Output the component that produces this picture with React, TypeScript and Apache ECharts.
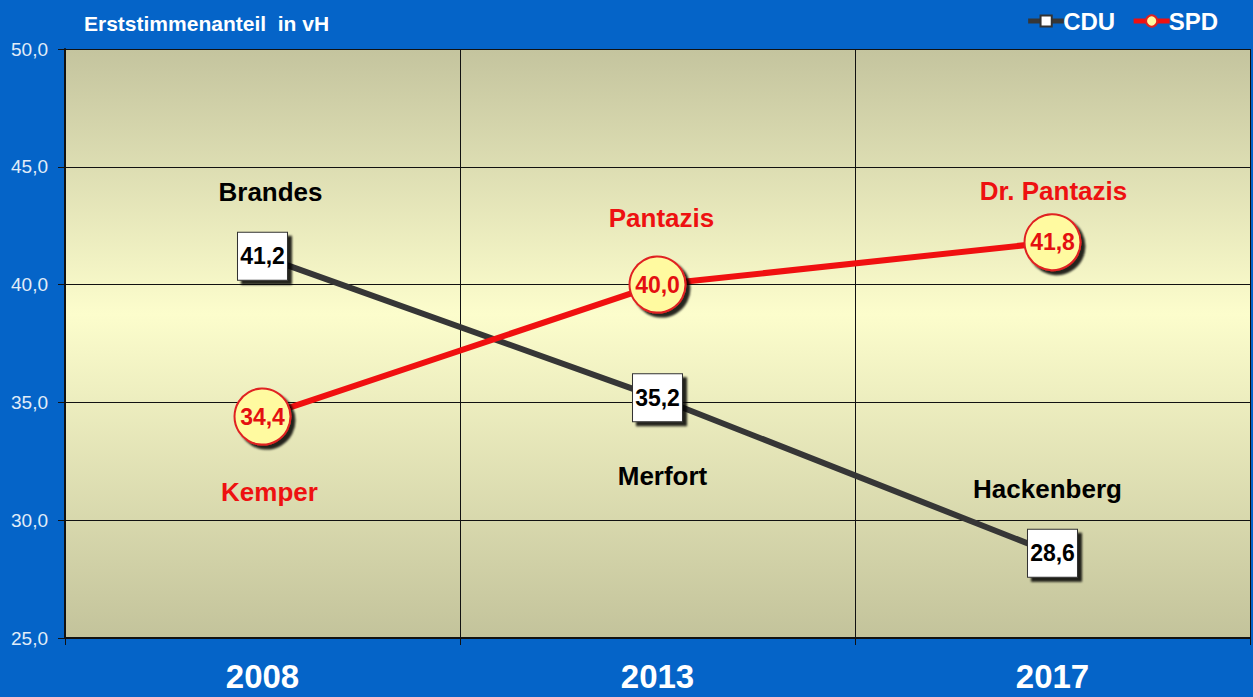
import React, { useEffect, useRef } from "react";
import * as echarts from "echarts";

const years = ["2008", "2013", "2017"];
const cduValues = [41.2, 35.2, 28.6];
const spdValues = [34.4, 40.0, 41.8];
const cduNames = ["Brandes", "Merfort", "Hackenberg"];
const spdNames = ["Kemper", "Pantazis", "Dr. Pantazis"];
const cduNameOffsets = [[8, -64], [5, 78], [-5, -64]];
const spdNameOffsets = [[7, 75], [4, -67], [1, -51]];

const FONT = "'Liberation Sans', Arial, sans-serif";
const fmt = (v: number) => v.toFixed(1).replace(".", ",");

export default function App() {
  const ref = useRef<HTMLDivElement>(null);
  useEffect(() => {
    if (!ref.current) return;
    const chart = echarts.init(ref.current, undefined, { renderer: "svg" });
    const nameSeries = (names: string[], values: number[], offs: number[][], color: string, id: string) => ({
      type: "scatter",
      id,
      name: id,
      symbol: "circle",
      symbolSize: 2,
      itemStyle: { color: "rgba(0,0,0,0)", opacity: 1 },
      silent: true,
      z: 5,
      data: names.map((n, i) => ({
        value: [years[i], values[i]],
        name: n,
        label: { offset: offs[i] },
      })),
      label: {
        show: true,
        position: "inside",
        formatter: (p: any) => p.name,
        color,
        opacity: 1,
        fontFamily: FONT,
        fontWeight: "bold",
        fontSize: 26,
      },
    });
    chart.setOption({
      animation: false,
      backgroundColor: "#0564c8",
      textStyle: { fontFamily: FONT },
      title: {
        text: "Erststimmenanteil  in vH",
        left: 79,
        top: 8,
        textStyle: { color: "#ffffff", fontSize: 21, fontWeight: "bold", fontFamily: FONT },
      },
      legend: {
        data: ["CDU", "SPD"],
        right: 30,
        top: 4,
        itemWidth: 36,
        itemHeight: 14,
        itemGap: 16,
        lineStyle: { width: 5 },
        textStyle: { color: "#ffffff", fontSize: 24, fontWeight: "bold", fontFamily: FONT, padding: [0, 0, 0, -6] },
      },
      grid: {
        left: 65,
        right: 3,
        top: 49,
        bottom: 59,
        show: true,
        borderWidth: 0,
        backgroundColor: new echarts.graphic.LinearGradient(0, 0, 0, 1, [
          { offset: 0, color: "#c4c49e" },
          { offset: 0.45, color: "#fcfdcc" },
          { offset: 1, color: "#c3c39b" },
        ]),
      },
      xAxis: {
        type: "category",
        data: years,
        boundaryGap: true,
        axisLine: { show: true, lineStyle: { color: "#111", width: 2 } },
        axisTick: { show: true, length: 7, lineStyle: { color: "#111" } },
        splitLine: { show: true, lineStyle: { color: "#111", width: 1 } },
        axisLabel: { color: "#ffffff", fontSize: 33, fontWeight: "bold", fontFamily: FONT, margin: 22 },
      },
      yAxis: {
        type: "value",
        min: 25,
        max: 50,
        interval: 5,
        axisLine: { show: true, lineStyle: { color: "#111", width: 2 } },
        axisTick: { show: true, length: 7, lineStyle: { color: "#111" } },
        splitLine: { show: true, lineStyle: { color: "#111", width: 1 } },
        axisLabel: { color: "#e2edf8", fontSize: 19, fontFamily: FONT, margin: 17, formatter: (v: number) => fmt(v) },
      },
      series: [
        {
          type: "line",
          name: "CDU",
          data: cduValues,
          z: 3,
          symbol: "rect",
          symbolSize: [50, 48],
          lineStyle: { color: "#363636", width: 6 },
          itemStyle: {
            color: "#ffffff",
            borderColor: "#333",
            borderWidth: 1,
            shadowColor: "rgba(0,0,0,0.85)",
            shadowBlur: 2,
            shadowOffsetX: 4,
            shadowOffsetY: 4,
          },
          label: {
            show: true,
            position: "inside",
            formatter: (p: any) => fmt(p.value),
            color: "#000",
            fontSize: 23,
            fontWeight: "bold",
            fontFamily: FONT,
          },
        },
        {
          type: "line",
          name: "SPD",
          data: spdValues,
          z: 4,
          symbol: "circle",
          symbolSize: 56,
          lineStyle: { color: "#f01010", width: 6 },
          itemStyle: {
            color: "#fffaa0",
            borderColor: "#e02020",
            borderWidth: 2,
            shadowColor: "rgba(0,0,0,0.85)",
            shadowBlur: 2,
            shadowOffsetX: 4,
            shadowOffsetY: 4,
          },
          label: {
            show: true,
            position: "inside",
            formatter: (p: any) => fmt(p.value),
            color: "#e41010",
            fontSize: 23,
            fontWeight: "bold",
            fontFamily: FONT,
          },
        },
        nameSeries(cduNames, cduValues, cduNameOffsets, "#000000", "cduNames"),
        nameSeries(spdNames, spdValues, spdNameOffsets, "#ee1111", "spdNames"),
      ],
    });
    return () => chart.dispose();
  }, []);
  return <div ref={ref} style={{ position: "fixed", left: 0, top: 0, width: 1253, height: 697 }} />;
}
